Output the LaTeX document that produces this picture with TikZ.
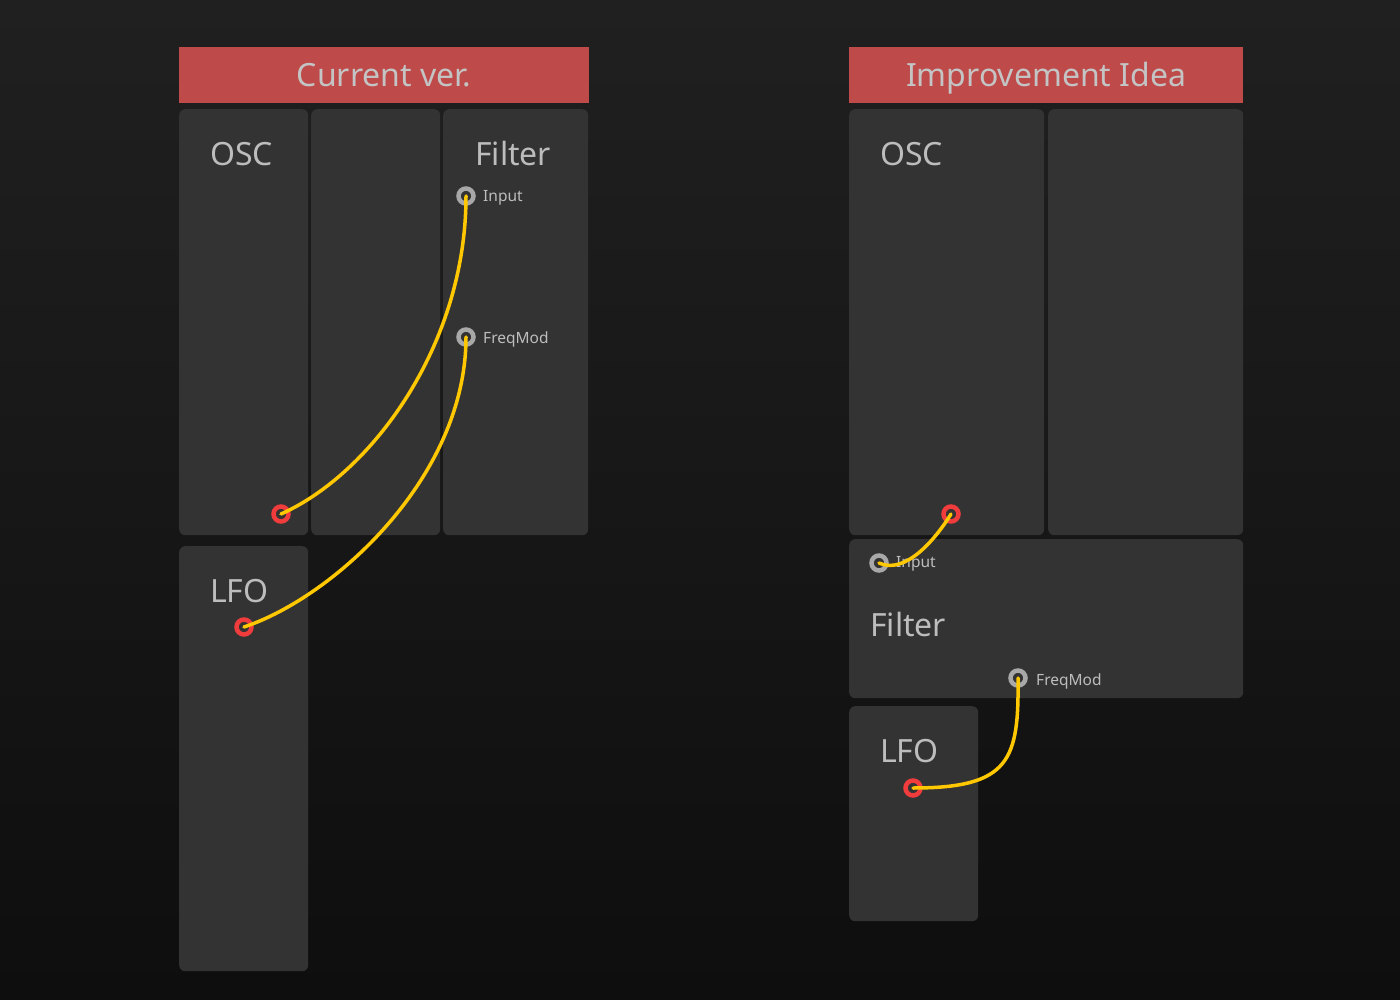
\documentclass[tikz,border=0pt]{standalone}
\usepackage{fontspec}
\setmainfont{Noto Sans}
\definecolor{bgtop}{HTML}{202020}
\definecolor{bgbot}{HTML}{0E0E0E}
\definecolor{boxc}{HTML}{333333}
\definecolor{hdrred}{HTML}{BE4A4A}
\definecolor{txtc}{HTML}{BDBDBD}
\definecolor{hdrtxt}{HTML}{C4C4C4}
\definecolor{portgray}{HTML}{A8A8A8}
\definecolor{portred}{HTML}{F03C3C}
\definecolor{wirec}{HTML}{FFC800}
\begin{document}
\begin{tikzpicture}[x=1pt,y=-1pt,
  panel/.style={fill=boxc, rounded corners=6pt, inner sep=0pt, anchor=north west, draw=none},
  hdr/.style={fill=hdrred, inner sep=0pt, anchor=north west, text=hdrtxt,
    font=\fontsize{32}{38}\selectfont, text height=23pt, text depth=0pt, minimum height=56pt},
  ttl/.style={text=txtc, font=\fontsize{32}{38}\selectfont, anchor=base west, inner sep=0pt},
  port/.style={circle, line width=4.5pt, minimum size=15pt, inner sep=0pt},
  inport/.style={port, draw=portgray},
  outport/.style={port, draw=portred},
  plbl/.style={text=txtc, font=\fontsize{15.5}{18}\selectfont, anchor=base west, inner sep=0pt},
  wire/.style={draw=wirec, line width=3.5pt, line cap=round}
]
\useasboundingbox (0,0) rectangle (1400,1000);
\shade[top color=bgtop, bottom color=bgbot] (0,0) rectangle (1400,1000);

% ---------- Left: Current ver.
\node[hdr, minimum width=410pt] (hL) at (179,47) {Current ver.};
\node[panel, minimum width=129pt, minimum height=426pt] (oscL) at (179,109) {};
\node[panel, minimum width=129pt, minimum height=426pt] (midL) at (311,109) {};
\node[panel, minimum width=145pt, minimum height=426pt] (filL) at (443,109) {};
\node[panel, minimum width=129pt, minimum height=425pt] (lfoL) at (179,546) {};

\node[ttl] (tOscL) at (210,166) {OSC};
\node[ttl] (tFilL) at (475,166) {Filter};
\node[ttl] (tLfoL) at (210,602) {LFO};

\node[inport] (inL) at (466,196) {};
\node[inport] (fmL) at (466,337) {};
\node[outport] (ooL) at (281,514) {};
\node[outport] (loL) at (244,627) {};
\node[plbl] (lInL) at (483,201.5) {Input};
\node[plbl] (lFmL) at (483,343) {FreqMod};

\draw[wire] (ooL.center) .. controls +(90,-40) and +(0,150) .. (inL.center);
\draw[wire] (loL.center) .. controls +(90,-30) and +(0,140) .. (fmL.center);

% ---------- Right: Improvement Idea
\node[hdr, minimum width=394pt] (hR) at (849,47) {Improvement Idea};
\node[panel, minimum width=195pt, minimum height=426pt] (oscR) at (849,109) {};
\node[panel, minimum width=195pt, minimum height=426pt] (emR) at (1048,109) {};
\node[panel, minimum width=394pt, minimum height=159pt] (filR) at (849,539) {};
\node[panel, minimum width=129pt, minimum height=215pt] (lfoR) at (849,706) {};

\node[ttl] (tOscR) at (880,166) {OSC};
\node[ttl] (tFilR) at (870,636) {Filter};
\node[ttl] (tLfoR) at (880,762) {LFO};

\node[outport] (ooR) at (951,514) {};
\node[inport] (inR) at (879,563) {};
\node[inport] (fmR) at (1018,678) {};
\node[outport] (loR) at (913,788) {};
\node[plbl] (lInR) at (896,567.5) {Input};
\node[plbl] (lFmR) at (1036,685) {FreqMod};

\draw[wire] (ooR.center) .. controls (935,540) and (905,575) .. (inR.center);
\draw[wire] (loR.center) .. controls (1010,788) and (1019,760) .. (fmR.center);
\end{tikzpicture}
\end{document}
